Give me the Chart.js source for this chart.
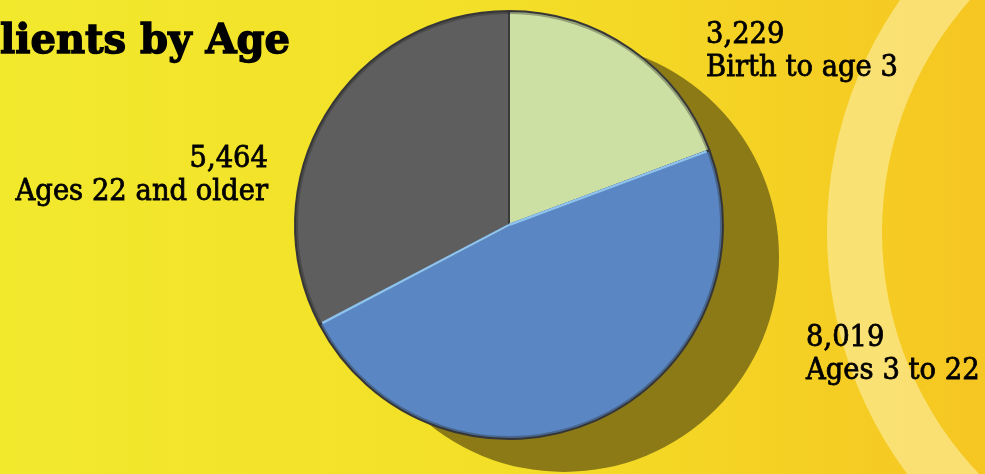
<!DOCTYPE html>
<html>
<head>
<meta charset="utf-8">
<script src="https://cdn.jsdelivr.net/npm/chart.js@4"></script>
<style>
  html, body { margin: 0; padding: 0; background: #f3df27; }
  #wrap { position: relative; width: 985px; height: 474px; overflow: hidden; }
</style>
</head>
<body>
<div id="wrap"><canvas id="chartClientes" width="985" height="474"></canvas></div>
<script>
// datos
const categorias = ["Birth to age 3", "Ages 3 to 22", "Ages 22 and older"];
const clientes = [3229, 8019, 5464];
const titulo = "Clients by Age";

const colores = ["#cde0a3", "#5a87c3", "#5e5e5e"];
const FUENTE = "'DejaVu Serif', 'Liberation Serif', serif";

/* ===========================================
        FONDO: degradado + arco claro + titulo
=========================================== */
const fondoPlugin = {
  id: "fondo",
  beforeDraw(chart) {
    const { ctx, width, height } = chart;
    ctx.save();
    const g = ctx.createLinearGradient(0, 0, width, 0);
    g.addColorStop(0, "#f2e92d");
    g.addColorStop(0.5, "#f3df27");
    g.addColorStop(1, "#f6c622");
    ctx.fillStyle = g;
    ctx.fillRect(0, 0, width, height);

    // anillo claro a la derecha
    ctx.beginPath();
    ctx.arc(1232, 232, 405, 0, Math.PI * 2);
    ctx.arc(1232, 232, 350, 0, Math.PI * 2, true);
    ctx.fillStyle = "rgba(252, 234, 150, 0.7)";
    ctx.fill("evenodd");

    // titulo: "lients by Age" ocupa 0..290, la C queda fuera
    ctx.font = "bold 41px " + FUENTE;
    ctx.fillStyle = "#000";
    ctx.textAlign = "left";
    ctx.textBaseline = "alphabetic";
    const esc = 290 / ctx.measureText(titulo.slice(1)).width;
    const anchoC = ctx.measureText(titulo[0]).width;
    ctx.translate(0, 53);
    ctx.scale(esc, 1);
    ctx.lineWidth = 1.4;
    ctx.strokeStyle = "#000";
    ctx.strokeText(titulo, -anchoC, 0);
    ctx.fillText(titulo, -anchoC, 0);
    ctx.restore();
  }
};

/* ===========================================
        SOMBRA DEL PASTEL + bisel
=========================================== */
const sombraPlugin = {
  id: "sombra",
  beforeDatasetsDraw(chart) {
    const arc = chart.getDatasetMeta(0).data[0];
    if (!arc) return;
    const { ctx } = chart;
    ctx.save();
    ctx.beginPath();
    ctx.arc(arc.x + 55, arc.y + 32, arc.outerRadius + 1, 0, Math.PI * 2);
    ctx.fillStyle = "#8b7a15";
    ctx.fill();
    ctx.restore();
  },
  afterDatasetsDraw(chart) {
    const meta = chart.getDatasetMeta(0);
    const arc = meta.data[1];
    if (!arc) return;
    const { ctx } = chart;
    ctx.save();
    // borde exterior oscuro (efecto bisel)
    ctx.beginPath();
    ctx.arc(arc.x, arc.y, arc.outerRadius - 1.5, 0, Math.PI * 2);
    ctx.strokeStyle = "rgba(40, 40, 40, 0.35)";
    ctx.lineWidth = 3;
    ctx.stroke();
    // brillo azul en los bordes de la rebanada azul
    ctx.strokeStyle = "#8ec3f0";
    ctx.lineWidth = 2.5;
    [arc.startAngle, arc.endAngle].forEach(a => {
      ctx.beginPath();
      ctx.moveTo(arc.x, arc.y);
      ctx.lineTo(arc.x + Math.cos(a) * (arc.outerRadius - 3), arc.y + Math.sin(a) * (arc.outerRadius - 3));
      ctx.stroke();
    });
    ctx.restore();
  }
};

/* ===========================================
        ETIQUETAS (valor + categoria)
=========================================== */
const posEtiquetas = [
  { dx: 197, dy: -182, align: "left" },
  { dx: 297, dy: 121, align: "left" },
  { dx: -241, dy: -58, align: "right" }
];

const etiquetasPlugin = {
  id: "etiquetas",
  afterDraw(chart) {
    const meta = chart.getDatasetMeta(0);
    const { ctx } = chart;
    ctx.save();
    ctx.font = "29px " + FUENTE;
    ctx.fillStyle = "#000";
    ctx.strokeStyle = "#000";
    ctx.lineWidth = 0.8;
    ctx.textBaseline = "alphabetic";
    // ancho de "Birth to age 3" en la referencia: 192px
    const esc = 192 / ctx.measureText(categorias[0]).width;
    meta.data.forEach((arc, i) => {
      const p = posEtiquetas[i];
      ctx.save();
      ctx.translate(arc.x + p.dx, arc.y + p.dy);
      ctx.scale(esc, 1);
      ctx.textAlign = p.align;
      const valor = clientes[i].toLocaleString("en-US");
      ctx.strokeText(valor, 0, 0);
      ctx.fillText(valor, 0, 0);
      ctx.strokeText(categorias[i], 0, 33);
      ctx.fillText(categorias[i], 0, 33);
      ctx.restore();
    });
    ctx.restore();
  }
};

/* ===========================================
        GRAFICA DE PASTEL
=========================================== */
new Chart(document.getElementById("chartClientes"), {
  type: "pie",
  data: {
    labels: categorias,
    datasets: [
      {
        data: clientes,
        backgroundColor: colores,
        borderColor: "#3a3a3a",
        borderWidth: 2
      }
    ]
  },
  options: {
    responsive: false,
    animation: false,
    layout: { padding: { left: 294, right: 261, top: 10, bottom: 34 } },
    plugins: {
      legend: { display: false },
      tooltip: { enabled: false }
    }
  },
  plugins: [fondoPlugin, sombraPlugin, etiquetasPlugin]
});
</script>
</body>
</html>
